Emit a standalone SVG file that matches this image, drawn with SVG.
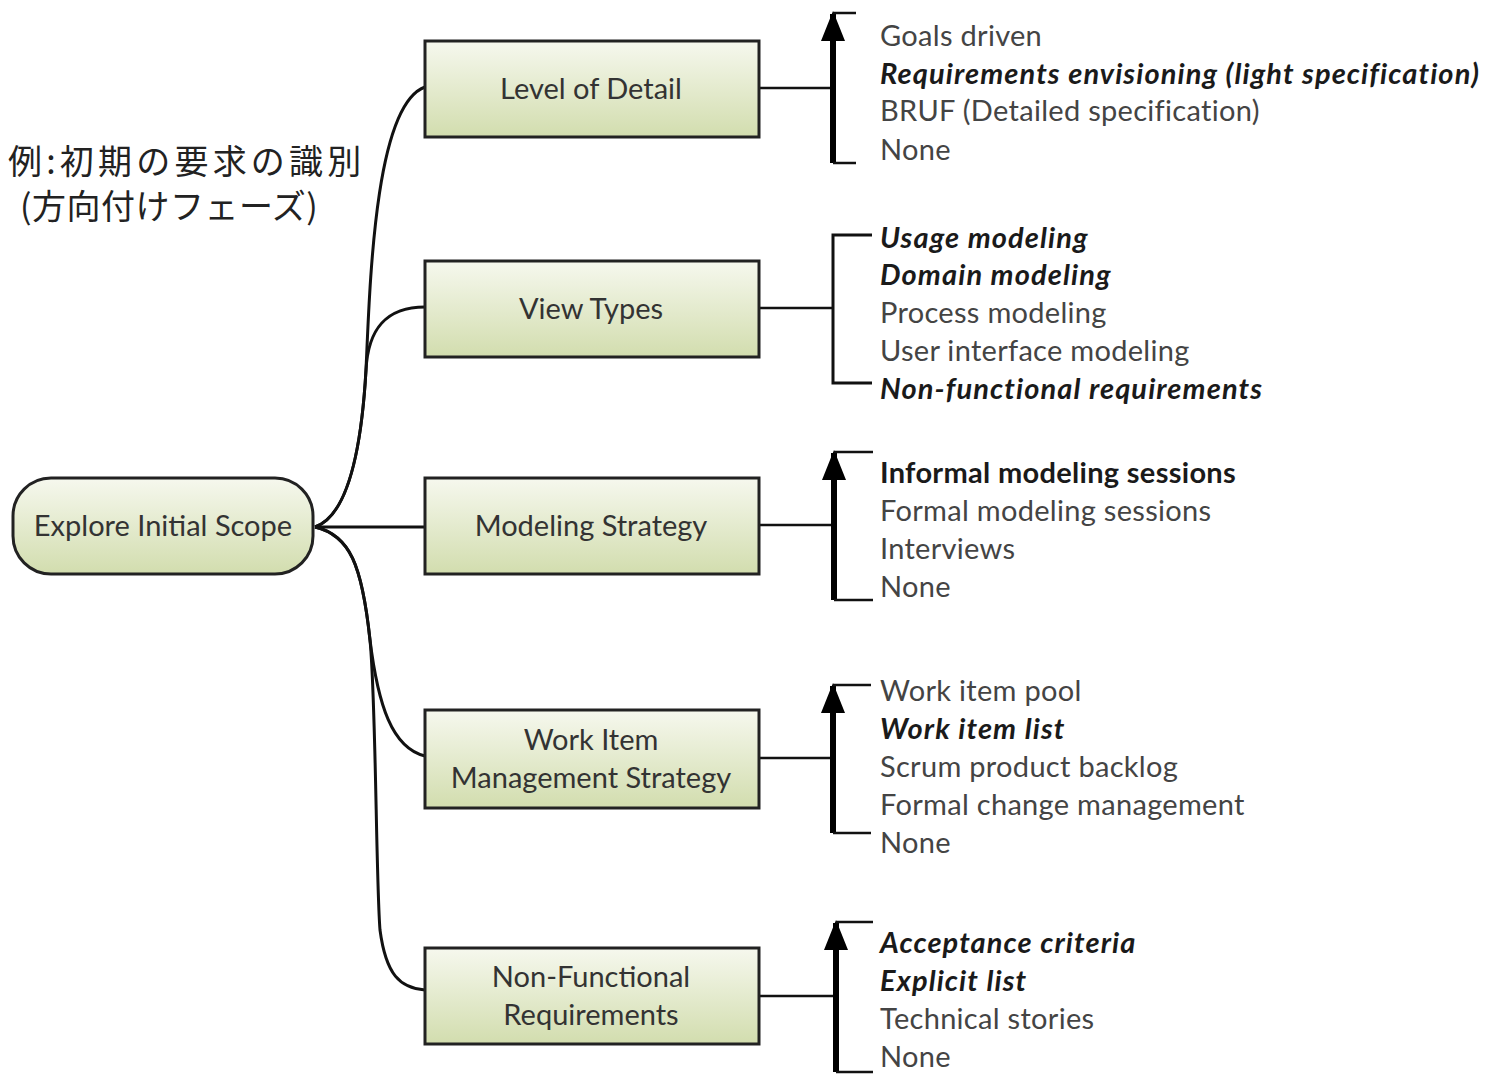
<svg xmlns="http://www.w3.org/2000/svg" width="1485" height="1074" viewBox="0 0 1485 1074">
<defs>
<linearGradient id="g" x1="0" y1="0" x2="0" y2="1">
<stop offset="0" stop-color="#f6f8ee"/>
<stop offset="1" stop-color="#d2ddae"/>
</linearGradient>
<marker id="ah" viewBox="0 0 30 24" refX="27" refY="12" markerWidth="30" markerHeight="24" markerUnits="userSpaceOnUse" orient="auto">
<path d="M0,0 L30,12 L0,24 Z" fill="#000"/>
</marker>
</defs>
<style>
.box{fill:url(#g);stroke:#222;stroke-width:3}
.bt{font-family:Lato,"Liberation Sans",sans-serif;font-size:29px;fill:#333;text-anchor:middle;dominant-baseline:central}
.it{font-family:Lato,"Liberation Sans",sans-serif;font-size:29px;letter-spacing:0.3px;fill:#444;dominant-baseline:central}
.b{font-weight:bold;fill:#1a1a1a}
.bi{font-weight:bold;font-style:italic;letter-spacing:1.1px;fill:#1a1a1a}
.c{fill:none;stroke:#111;stroke-width:3}
.t{fill:none;stroke:#111;stroke-width:2.5}
.v{fill:none;stroke:#000;stroke-width:6}
.jp{font-family:"Noto Sans CJK JP",sans-serif;font-size:34px;fill:#222;dominant-baseline:central}
</style>
<rect width="1485" height="1074" fill="#fff"/>
<g id="caption">
<text class="jp" x="8" y="159" letter-spacing="4.2">例:初期の要求の識別</text>
<text class="jp" x="20" y="204" letter-spacing="0.5">(方向付けフェーズ)</text>
</g>
<g id="connectors">
<path class="c" d="M315,527 C350,515 362,440 366,370 C370,280 375,105 425,87"/>
<path class="c" d="M315,527 C350,515 362,440 366,370 C368,330 385,307 425,307"/>
<path class="c" d="M315,527 L425,527"/>
<path class="c" d="M315,527 C350,535 362,565 370,640 C378,705 392,748 425,756"/>
<path class="c" d="M315,527 C350,535 362,565 370,640 C376,700 376,880 380,930 C386,975 400,988 425,990"/>
<line class="t" x1="759" y1="88" x2="833" y2="88"/>
<line class="v" x1="833" y1="163" x2="833" y2="14" marker-end="url(#ah)"/>
<path class="t" d="M833,13 H856 M833,163 H856"/>
<line class="t" x1="759" y1="308" x2="833" y2="308"/>
<path class="c" d="M872,235 H833 V383 H872"/>
<line class="t" x1="759" y1="525" x2="834" y2="525" stroke-width="1.5"/>
<line class="v" x1="834" y1="600" x2="834" y2="453" marker-end="url(#ah)"/>
<path class="t" d="M834,452 H873 M834,600 H873"/>
<line class="t" x1="759" y1="758" x2="833" y2="758"/>
<line class="v" x1="833" y1="833" x2="833" y2="686" marker-end="url(#ah)"/>
<path class="t" d="M833,685 H871 M833,833 H871"/>
<line class="t" x1="759" y1="996" x2="836" y2="996"/>
<line class="v" x1="836" y1="1072" x2="836" y2="923" marker-end="url(#ah)"/>
<path class="t" d="M836,922 H873 M836,1072 H873"/>
</g>
<g id="root">
<rect class="box" x="13" y="478" width="300" height="96" rx="38"/>
<text class="bt" x="163" y="524">Explore Initial Scope</text>
</g>
<g id="level">
<rect class="box" x="425" y="41" width="334" height="96"/>
<text class="bt" x="591" y="87">Level of Detail</text>
</g>
<g id="view">
<rect class="box" x="425" y="261" width="334" height="96"/>
<text class="bt" x="591" y="307">View Types</text>
</g>
<g id="modeling">
<rect class="box" x="425" y="478" width="334" height="96"/>
<text class="bt" x="591" y="524">Modeling Strategy</text>
</g>
<g id="workitem">
<rect class="box" x="425" y="710" width="334" height="98"/>
<text class="bt" x="591" y="738">Work Item</text>
<text class="bt" x="591" y="776">Management Strategy</text>
</g>
<g id="nfr">
<rect class="box" x="425" y="948" width="334" height="96"/>
<text class="bt" x="591" y="975">Non-Functional</text>
<text class="bt" x="591" y="1013">Requirements</text>
</g>
<g id="level-options">
<text class="it" x="880" y="34">Goals driven</text>
<text class="it bi" x="880" y="72">Requirements envisioning (light specification)</text>
<text class="it" x="880" y="109">BRUF (Detailed specification)</text>
<text class="it" x="880" y="148">None</text>
</g>
<g id="view-options">
<text class="it bi" x="880" y="236">Usage modeling</text>
<text class="it bi" x="880" y="273">Domain modeling</text>
<text class="it" x="880" y="311">Process modeling</text>
<text class="it" x="880" y="349">User interface modeling</text>
<text class="it bi" x="880" y="387">Non-functional requirements</text>
</g>
<g id="modeling-options">
<text class="it b" x="880" y="471">Informal modeling sessions</text>
<text class="it" x="880" y="509">Formal modeling sessions</text>
<text class="it" x="880" y="547">Interviews</text>
<text class="it" x="880" y="585">None</text>
</g>
<g id="workitem-options">
<text class="it" x="880" y="689">Work item pool</text>
<text class="it bi" x="880" y="727">Work item list</text>
<text class="it" x="880" y="765">Scrum product backlog</text>
<text class="it" x="880" y="803">Formal change management</text>
<text class="it" x="880" y="841">None</text>
</g>
<g id="nfr-options">
<text class="it bi" x="880" y="941">Acceptance criteria</text>
<text class="it bi" x="880" y="979">Explicit list</text>
<text class="it" x="880" y="1017">Technical stories</text>
<text class="it" x="880" y="1055">None</text>
</g>
</svg>
